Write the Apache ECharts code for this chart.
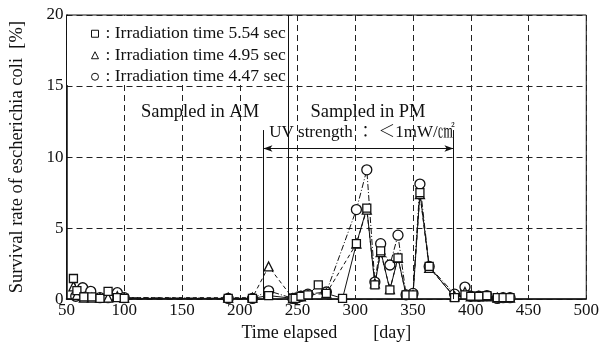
<!DOCTYPE html>
<html>
<head>
<meta charset="utf-8">
<script src="https://cdn.jsdelivr.net/npm/echarts@6/dist/echarts.min.js"></script>
<style>html,body{margin:0;padding:0;background:#fff}#c{width:602px;height:347px}</style>
</head>
<body>
<div id="c"></div>
<script>
// ---- data ----
const seriesNames = ['Irradiation time 5.54 sec', 'Irradiation time 4.95 sec', 'Irradiation time 4.47 sec'];
const xTicks = [50, 100, 150, 200, 250, 300, 350, 400, 450, 500];
const yTicks = [0, 5, 10, 15, 20];

const daysSq = [56,59,65,72,79,86,94,100,190,211,225,246,248,253,259,268,275,289,301,310,317,322,330,337,344,350,356,364,386,395,400,407,414,423,428,434];
const valSq  = [1.45,0.6,0.15,0.15,0.05,0.55,0.1,0.05,0.05,0.05,0.25,0.05,0.05,0.2,0.3,1.0,0.4,0.05,3.9,6.4,1.0,3.4,0.65,2.9,0.3,0.3,7.5,2.3,0.1,0.3,0.2,0.2,0.25,0.1,0.1,0.1];

const daysTri = [56,59,65,72,79,86,94,100,190,211,225,246,248,253,259,275,301,310,317,322,330,337,344,350,356,364,386,395,400,407,414,423,428,434];
const valTri  = [0.9,0.3,0.1,0.1,0.1,0.1,0.2,0.1,0.1,0.1,2.3,0.05,0.1,0.2,0.3,0.4,3.9,6.3,1.1,3.3,0.7,2.9,0.3,0.3,7.4,2.2,0.2,0.5,0.2,0.2,0.2,0.1,0.1,0.1];

const daysCir = [58,64,71,79,86,94,100,190,211,225,246,248,253,259,275,301,310,317,322,330,337,344,350,356,364,386,395,400,407,414,423,428,434];
const valCir  = [0.2,0.8,0.55,0.1,0.1,0.45,0.1,0.05,0.05,0.58,0.05,0.05,0.2,0.35,0.5,6.3,9.1,1.2,3.9,2.4,4.5,0.3,0.4,8.1,2.3,0.35,0.85,0.2,0.2,0.25,0.05,0.1,0.1];

// reference lines (day / % values)
const uvStart = 220.5, amPmSplit = 242, uvEnd = 385;
const uvArrowLevel = 10.6, uvTickTop = 11.9;

const annotations = ['Sampled in AM', 'Sampled in PM', 'UV strength ： ＜1mW/㎠'];

// ---- chart ----
const serif = "'Liberation Serif','Times New Roman','Noto Serif CJK JP','Noto Sans CJK JP',serif";
const zip = (xs, ys) => xs.map((x, i) => [x, ys[i]]);
const chart = echarts.init(document.getElementById('c'), null, {renderer: 'canvas'});

const baseSeries = (name, data, symbol, size, lineType) => ({
  name, type: 'line', data, symbol, symbolSize: size, showSymbol: true,
  lineStyle: {color: '#111', width: 1, type: lineType},
  itemStyle: {color: '#fff', borderColor: '#111', borderWidth: 1.3},
  emphasis: {disabled: true}, animation: false, z: 3
});

const sSq = baseSeries(seriesNames[0], zip(daysSq, valSq), 'rect', 8, 'solid');
const sTri = baseSeries(seriesNames[1], zip(daysTri, valTri), 'triangle', 9, [4, 3]);
const sCir = baseSeries(seriesNames[2], zip(daysCir, valCir), 'circle', 10, [6, 2, 1, 2]);

sSq.markLine = {
  silent: true, animation: false, symbol: 'none',
  lineStyle: {color: '#111', type: 'solid', width: 1},
  label: {show: false}, emphasis: {disabled: true},
  data: [
    [{coord: [uvStart, 0]}, {coord: [uvStart, uvTickTop]}],
    [{coord: [amPmSplit, 0]}, {coord: [amPmSplit, 20]}],
    [{coord: [uvEnd, 0]}, {coord: [uvEnd, uvTickTop]}],
    [{coord: [uvStart, uvArrowLevel], symbol: 'arrow', symbolSize: [5, 9]},
     {coord: [uvEnd, uvArrowLevel], symbol: 'arrow', symbolSize: [5, 9]}]
  ]
};

const option = {
  backgroundColor: '#fff',
  animation: false,
  grid: {left: 66, right: 14, top: 15, bottom: 46, show: true, borderColor: '#111', borderWidth: 1, backgroundColor: 'transparent'},
  legend: {
    orient: 'vertical', left: 86, top: 20, itemWidth: 7, itemHeight: 7, itemGap: 4,
    selectedMode: false,
    data: [
      {name: seriesNames[0], icon: 'rect'},
      {name: seriesNames[1], icon: 'triangle'},
      {name: seriesNames[2], icon: 'circle'}
    ],
    itemStyle: {color: '#fff', borderColor: '#111', borderWidth: 1},
    formatter: n => ': ' + n,
    textStyle: {fontFamily: serif, fontSize: 17.5, color: '#111', padding: [0, 0, 0, 2]}
  },
  xAxis: {
    type: 'value', min: 50, max: 500, interval: 50,
    name: 'Time elapsed        [day]', nameLocation: 'middle', nameGap: 22,
    nameTextStyle: {fontFamily: serif, fontSize: 18, color: '#111'},
    axisLine: {show: true, lineStyle: {color: '#111', width: 1.5}},
    axisTick: {show: false},
    axisLabel: {fontFamily: serif, fontSize: 17, color: '#111', margin: 3,
      formatter: v => xTicks.includes(v) ? String(v) : ''},
    splitLine: {show: true, lineStyle: {color: '#222', type: [6, 4], width: 1}}
  },
  yAxis: {
    type: 'value', min: 0, max: 20, interval: 5,
    name: 'Survival rate of escherichia coli  [%]', nameLocation: 'middle', nameGap: 40,
    nameTextStyle: {fontFamily: serif, fontSize: 18.5, color: '#111'},
    axisLine: {show: true, lineStyle: {color: '#111', width: 1.5}},
    axisTick: {show: false},
    axisLabel: {fontFamily: serif, fontSize: 17, color: '#111', margin: 3,
      formatter: v => yTicks.includes(v) ? String(v) : ''},
    splitLine: {show: true, lineStyle: {color: '#222', type: [6, 4], width: 1}}
  },
  graphic: [
    {type: 'rect', z: 1, silent: true, shape: {x: 67, y: 16, width: 221, height: 69}, style: {fill: '#fff'}},
    {type: 'text', z: 5, silent: true, x: 200, y: 112, style: {text: annotations[0], font: '18.5px ' + serif, fill: '#111', align: 'center', verticalAlign: 'middle'}},
    {type: 'text', z: 5, silent: true, x: 368, y: 112, style: {text: annotations[1], font: '18.5px ' + serif, fill: '#111', align: 'center', verticalAlign: 'middle'}},
    {type: 'text', z: 5, silent: true, x: 362, y: 133, style: {text: annotations[2], font: '17px ' + serif, fill: '#111', align: 'center', verticalAlign: 'middle'}}
  ],
  series: [sCir, sTri, sSq]
};
chart.setOption(option);
</script>
</body>
</html>
